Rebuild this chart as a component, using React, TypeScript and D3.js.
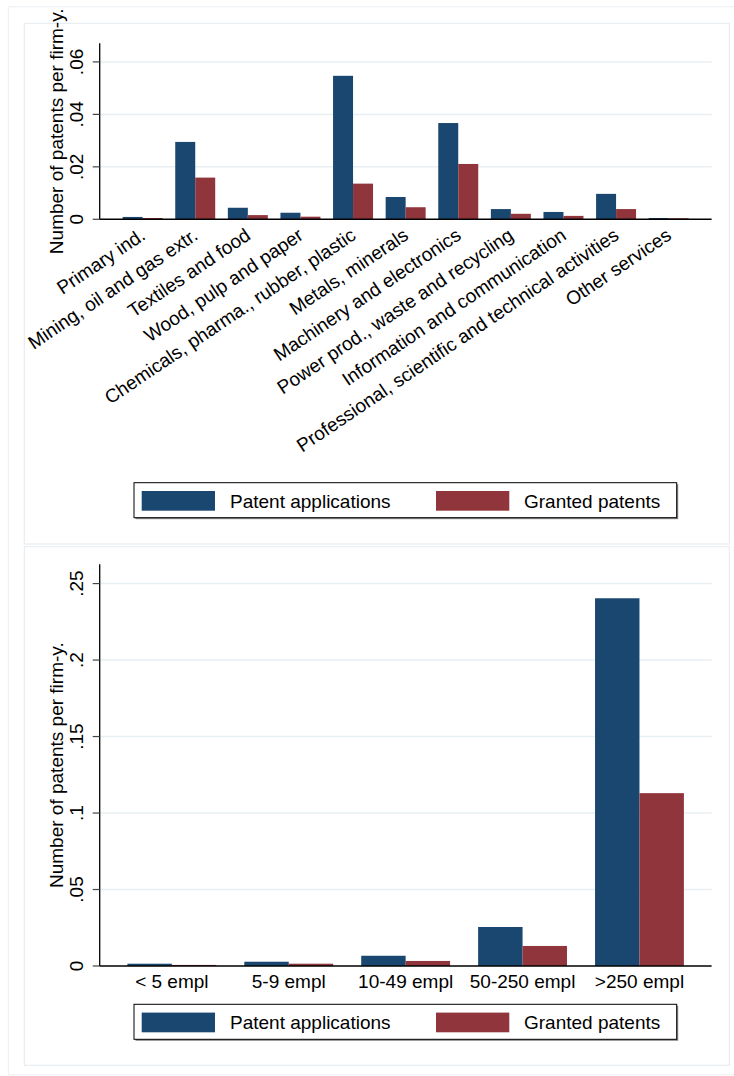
import * as d3 from 'd3';
import { useEffect, useRef } from 'react';

// Industry panel
const industries = [
    'Primary ind.',
    'Mining, oil and gas extr.',
    'Textiles and food',
    'Wood, pulp and paper',
    'Chemicals, pharma., rubber, plastic',
    'Metals, minerals',
    'Machinery and electronics',
    'Power prod., waste and recycling',
    'Information and communication',
    'Professional, scientific and technical activities',
    'Other services',
];
const industryApplications = [0.0009, 0.0295, 0.0044, 0.0025, 0.0547, 0.0085, 0.0367, 0.0039, 0.0028, 0.0097, 0.0005];
const industryGranted = [0.0005, 0.0159, 0.0016, 0.001, 0.0136, 0.0046, 0.0211, 0.0021, 0.0013, 0.0039, 0.0004];
const industryTicks = [0, 0.02, 0.04, 0.06];

// Firm size panel
const sizes = ['< 5 empl', '5-9 empl', '10-49 empl', '50-250 empl', '>250 empl'];
const sizeApplications = [0.0015, 0.0028, 0.0067, 0.0255, 0.2404];
const sizeGranted = [0.0007, 0.0015, 0.0033, 0.0131, 0.113];
const sizeTicks = [0, 0.05, 0.1, 0.15, 0.2, 0.25];

const seriesNames = ['Patent applications', 'Granted patents'];
const colors = ['#1a476f', '#90353b'];

const FONT = '"Liberation Sans", Arial, sans-serif';
const FS = 19;

function fmtTick(v: number) {
    if (v === 0) return '0';
    return String(+v.toFixed(3)).replace(/^0/, '');
}

type PanelOpts = {
    bottom: number;
    axisTop: number;
    yMax: number;
    cats: string[];
    apps: number[];
    granted: number[];
    ticks: number[];
    outerPad: number;
    rotated: boolean;
    legendY: number;
};

function drawPanel(svg: d3.Selection<SVGSVGElement, unknown, null, undefined>, o: PanelOpts) {
    const left = 99.7;
    const right = 711.6;
    const g = svg.append('g');

    const y = d3.scaleLinear().domain([0, o.yMax]).range([o.bottom, o.axisTop]);
    const x = d3.scaleBand().domain(o.cats).range([left, right]).paddingInner(0).paddingOuter(o.outerPad);
    const sub = d3.scaleBand().domain(seriesNames).range([0, x.bandwidth() * 0.76]);

    // gridlines
    g.selectAll('.grid')
        .data(o.ticks.filter((t) => t > 0))
        .enter()
        .append('line')
        .attr('x1', left)
        .attr('x2', right)
        .attr('y1', (d) => y(d))
        .attr('y2', (d) => y(d))
        .attr('stroke', '#e8eff3')
        .attr('stroke-width', 1.5);

    // bars
    const rows = o.cats.map((c, i) => ({ cat: c, vals: [o.apps[i], o.granted[i]] }));
    rows.forEach((row) => {
        const x0 = (x(row.cat) || 0) + x.bandwidth() / 2 - x.bandwidth() * 0.38;
        row.vals.forEach((v, j) => {
            g.append('rect')
                .attr('x', x0 + (sub(seriesNames[j]) || 0))
                .attr('y', y(v))
                .attr('width', sub.bandwidth())
                .attr('height', o.bottom - y(v))
                .attr('fill', colors[j]);
        });
    });

    // y axis
    g.append('line')
        .attr('x1', left).attr('x2', left)
        .attr('y1', o.axisTop).attr('y2', o.bottom)
        .attr('stroke', '#000').attr('stroke-width', 1.3);
    g.selectAll('.tick')
        .data(o.ticks)
        .enter()
        .append('line')
        .attr('x1', left - 7)
        .attr('x2', left)
        .attr('y1', (d) => y(d))
        .attr('y2', (d) => y(d))
        .attr('stroke', '#444')
        .attr('stroke-width', 1.2);
    g.selectAll('.ticklabel')
        .data(o.ticks)
        .enter()
        .append('text')
        .attr('transform', (d) => `translate(82.7, ${y(d)}) rotate(-90)`)
        .attr('text-anchor', 'middle')
        .style('font-family', FONT)
        .style('font-size', `${FS}px`)
        .attr('fill', '#000')
        .text((d) => fmtTick(d));
    g.append('text')
        .attr('transform', `translate(63.3, ${(o.axisTop + o.bottom) / 2}) rotate(-90)`)
        .attr('text-anchor', 'middle')
        .style('font-family', FONT)
        .style('font-size', `${FS}px`)
        .text('Number of patents per firm-y.');

    // x axis
    g.append('line')
        .attr('x1', left).attr('x2', right)
        .attr('y1', o.bottom).attr('y2', o.bottom)
        .attr('stroke', '#000').attr('stroke-width', 1.5);

    g.selectAll('.xlabel')
        .data(o.cats)
        .enter()
        .append('text')
        .attr('transform', (d) => {
            const cx = (x(d) || 0) + x.bandwidth() / 2;
            return o.rotated ? `translate(${cx + 4}, ${o.bottom + 19}) rotate(-34)` : `translate(${cx}, ${o.bottom + 22})`;
        })
        .attr('text-anchor', o.rotated ? 'end' : 'middle')
        .style('font-family', FONT)
        .style('font-size', `${FS}px`)
        .text((d) => d);

    // legend
    const lg = g.append('g').attr('transform', `translate(0, ${o.legendY})`);
    lg.append('rect').attr('x', 135.5).attr('y', 1.5).attr('width', 542.7).attr('height', 35).attr('fill', '#888');
    lg.append('rect').attr('x', 134).attr('y', 0).attr('width', 542.7).attr('height', 35)
        .attr('fill', '#fff').attr('stroke', '#000').attr('stroke-width', 1);
    const swX = [141.7, 436];
    const txX = [230, 524];
    seriesNames.forEach((s, j) => {
        lg.append('rect').attr('x', swX[j]).attr('y', 8.3).attr('width', 73.3).attr('height', 19.7).attr('fill', colors[j]);
        lg.append('text')
            .attr('x', txX[j])
            .attr('y', 25)
            .style('font-family', FONT)
            .style('font-size', `${FS}px`)
            .text(s);
    });
}

export default function App() {
    const svgRef = useRef<SVGSVGElement>(null);
    const width = 734;
    const height = 1076;

    useEffect(() => {
        const svg = d3.select(svgRef.current as SVGSVGElement);
        svg.selectAll('*').remove();

        svg.append('rect').attr('width', width).attr('height', height).attr('fill', '#fff');
        // outer frame and panel frames
        svg.append('rect').attr('x', 8.4).attr('y', 6.7).attr('width', 726).attr('height', 1068)
            .attr('fill', 'none').attr('stroke', '#eef2f4').attr('stroke-width', 1.2);
        svg.append('rect').attr('x', 24.3).attr('y', 23.3).attr('width', 705).attr('height', 520.7)
            .attr('fill', '#fff').attr('stroke', '#e6edf1').attr('stroke-width', 1.2);
        svg.append('rect').attr('x', 24.3).attr('y', 546.7).attr('width', 705).attr('height', 518.6)
            .attr('fill', '#fff').attr('stroke', '#e6edf1').attr('stroke-width', 1.2);

        drawPanel(svg, {
            bottom: 219.3,
            axisTop: 43.3,
            yMax: 0.0671,
            cats: industries,
            apps: industryApplications,
            granted: industryGranted,
            ticks: industryTicks,
            outerPad: 0.316,
            rotated: true,
            legendY: 482.7,
        });
        drawPanel(svg, {
            bottom: 966,
            axisTop: 564.3,
            yMax: 0.2626,
            cats: sizes,
            apps: sizeApplications,
            granted: sizeGranted,
            ticks: sizeTicks,
            outerPad: 0.117,
            rotated: false,
            legendY: 1004.3,
        });
    }, []);

    return (
        <svg ref={svgRef} width={width} height={height} style={{ position: 'absolute', left: 0, top: 0 }}></svg>
    );
}
